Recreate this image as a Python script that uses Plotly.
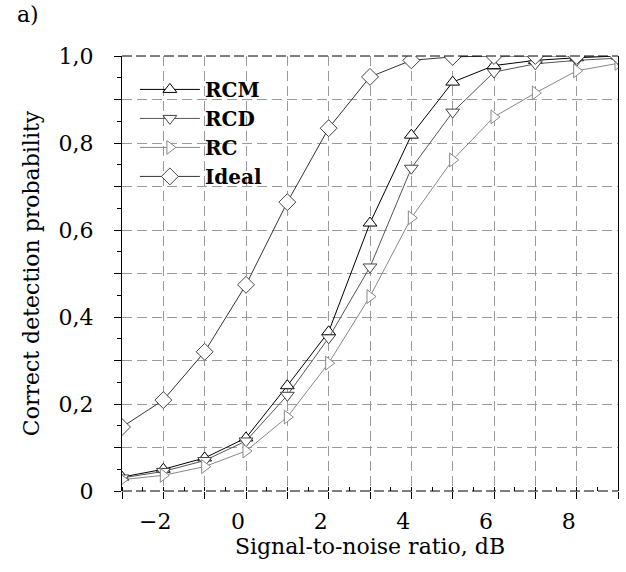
import plotly.graph_objects as go

snr = [-3, -2, -1, 0, 1, 2, 3, 4, 5, 6, 7, 8, 9]
rcm = [0.032, 0.050, 0.076, 0.122, 0.242, 0.366, 0.616, 0.818, 0.940, 0.978, 0.990, 0.996, 1.000]
rcd = [0.030, 0.045, 0.070, 0.115, 0.220, 0.352, 0.515, 0.742, 0.871, 0.963, 0.982, 0.990, 0.995]
rc = [0.026, 0.036, 0.056, 0.092, 0.170, 0.294, 0.447, 0.628, 0.761, 0.860, 0.915, 0.966, 0.983]
ideal = [0.147, 0.209, 0.320, 0.474, 0.664, 0.834, 0.952, 0.990, 0.998, 1.0, 1.0, 1.0, 1.0]

x_ticks = [-3, -2, -1, 0, 1, 2, 3, 4, 5, 6, 7, 8, 9]
x_labels = ["", "\u22122", "", "0", "", "2", "", "4", "", "6", "", "8", ""]
y_ticks = [0, 0.1, 0.2, 0.3, 0.4, 0.5, 0.6, 0.7, 0.8, 0.9, 1.0]
y_labels = ["0", "", "0,2", "", "0,4", "", "0,6", "", "0,8", "", "1,0"]

series = [
    ("RCM", rcm, "triangle-up", "#000000", "#000000", 12),
    ("RCD", rcd, "triangle-down", "#444444", "#555555", 12),
    ("RC", rc, "triangle-right", "#888888", "#888888", 12),
    ("Ideal", ideal, "diamond", "#444444", "#333333", 13),
]

fig = go.Figure()
for name, vals, sym, mcol, lcol, size in series:
    fig.add_trace(go.Scatter(
        x=snr, y=vals, name=name, mode="lines+markers",
        line=dict(color=lcol, width=1),
        marker=dict(symbol=sym, size=size, color="white",
                    line=dict(color=mcol, width=1)),
    ))

axis_font = dict(family="DejaVu Serif", size=22, color="black")

fig.update_layout(
    width=626, height=572,
    margin=dict(l=122, r=8, t=56, b=81),
    paper_bgcolor="white", plot_bgcolor="white",
    showlegend=True,
    legend=dict(x=0.026, y=0.968, xanchor="left", yanchor="top",
                bgcolor="rgba(0,0,0,0)", itemwidth=60,
                font=dict(family="DejaVu Serif", size=20, color="black", weight="bold")),
    xaxis=dict(
        range=[-3, 9], tickvals=x_ticks, ticktext=x_labels,
        showgrid=True, gridcolor="#9a9a9a", gridwidth=1, griddash="10px,5px",
        zeroline=False, showline=False,
        ticks="outside", ticklen=7, tickcolor="black",
        ticklabelshift=-8, ticklabelstandoff=4,
        minor=dict(dtick=0.5, ticks="inside", ticklen=4, tickcolor="black", showgrid=False),
        tickfont=axis_font,
        title=dict(text="Signal-to-noise ratio, dB", font=axis_font, standoff=0),
    ),
    yaxis=dict(
        range=[0, 1], tickvals=y_ticks, ticktext=y_labels,
        showgrid=True, gridcolor="#9a9a9a", gridwidth=1, griddash="10px,5px",
        zeroline=False, showline=True, linecolor="black", linewidth=1, mirror=True,
        ticks="outside", ticklen=7, tickcolor="black",
        ticklabelstandoff=16,
        minor=dict(dtick=0.05, ticks="outside", ticklen=4, tickcolor="black", showgrid=False),
        tickfont=axis_font,
        title=dict(text="Correct detection probability", font=axis_font, standoff=12),
    ),
    shapes=[
        dict(type="line", xref="paper", yref="paper", x0=0, x1=1, y0=0, y1=0,
             line=dict(color="black", width=1, dash="10px,4px")),
        dict(type="line", xref="paper", yref="paper", x0=0, x1=1, y0=1, y1=1,
             line=dict(color="black", width=1, dash="10px,4px")),
    ],
    annotations=[
        dict(text="a)", xref="paper", yref="paper", x=-0.216, y=1.095,
             xanchor="left", yanchor="middle", showarrow=False,
             font=dict(family="DejaVu Serif", size=22, color="black")),
    ],
)

fig.write_html("out.html")
